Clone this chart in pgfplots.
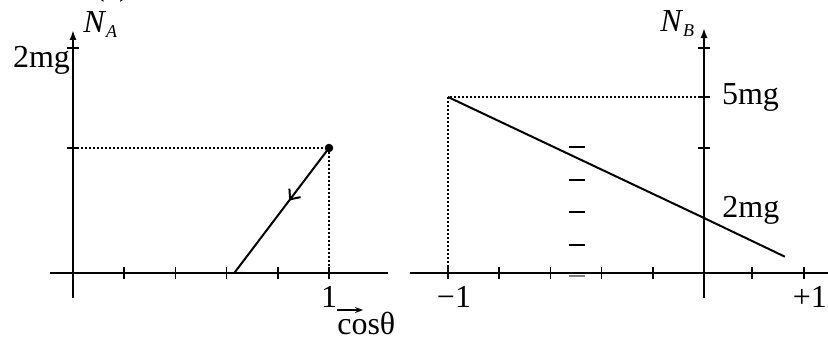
\documentclass[border=0pt]{standalone}
\usepackage{fontspec}
\setmainfont{Liberation Serif}
\usepackage{pgfplots}
\pgfplotsset{compat=1.18}
\usetikzlibrary{arrows.meta,decorations.markings}

\newcommand{\lblfont}{\fontsize{16}{19}\selectfont}
\newcommand{\sub}[1]{\raisebox{-2.5pt}{\fontsize{9}{10}\selectfont\itshape #1}}

\pgfplotsset{
  physaxis/.style={
    axis lines=middle,
    enlargelimits=false,
    clip=false,
    axis line style={line width=0.9pt},
    x axis line style={-},
    y axis line style={-{Latex[length=5pt,width=3.5pt]}},
    tick align=center,
    major tick length=6pt,
    tick style={line width=0.8pt, black},
    every tick label/.append style={font=\lblfont},
  },
}

\begin{document}
\begin{tikzpicture}[x=1pt,y=1pt]
\useasboundingbox (0,0) rectangle (414,170.5);
\node[anchor=base, font=\lblfont] at (56,172.5) {(a)};

% N_A against cos(theta)
\begin{axis}[physaxis,
  x=128pt, y=56.25pt,
  at={(36.5pt,34pt)}, anchor=origin,
  xmin=-0.09, xmax=1.23, ymin=-0.222, ymax=2.16,
  xtick={0.2,0.4,0.6,0.8,1}, xticklabels={,,,,1},
  ytick={1.111,2}, yticklabels={,2mg},
  yticklabel style={xshift=5pt, yshift=-6pt},
]
\addplot[line width=0.6pt, dash pattern=on 1pt off 1pt] coordinates {(0,1.111)(1,1.111)(1,0)};
\addplot[line width=1pt, postaction={decorate}, decoration={markings,
    mark=at position 0.42 with {\arrow{Straight Barb[length=4pt,width=7pt]}}}]
  coordinates {(1,1.111)(0.63,0)};
\addplot[only marks, mark=*, mark size=1.9pt] coordinates {(1,1.111)};
\node[anchor=base west, inner sep=0pt, font=\lblfont] at (axis cs:0.039,2.142) {\textit{N}\sub{A}};
\node[anchor=base west, inner sep=0pt, font=\lblfont] at (axis cs:1.031,-0.551) {cosθ};
\draw[-{Stealth[length=4pt,width=3pt]}, line width=0.6pt] (axis cs:1.031,-0.329) -- (axis cs:1.133,-0.329);
\end{axis}

% N_B against cos(theta)
\begin{axis}[physaxis,
  x=128pt, y=17.6pt,
  at={(352pt,34pt)}, anchor=origin,
  xmin=-1.148, xmax=0.5, ymin=-0.71, ymax=6.96,
  xtick={-1,-0.8,-0.6,-0.4,-0.2,0.188,0.39}, xticklabels={−1,,,,,,+1},
  xticklabel style={xshift=3pt},
  ytick={3.551,5,6.392}, yticklabels={,5mg,},
  yticklabel style={anchor=west, xshift=8.5pt},
]
\addplot[line width=0.6pt, dash pattern=on 1pt off 1pt] coordinates {(0,5)(-1,5)(-1,0)};
\addplot[line width=1pt] coordinates {(-1,5)(0,1.5625)(0.316,0.463)};
\addplot[only marks, mark=-, mark size=4pt, mark options={line width=1pt}]
  coordinates {(-0.497,3.588)(-0.497,2.642)(-0.497,1.741)(-0.497,0.795)};
\addplot[only marks, mark=-, mark size=4pt, mark options={line width=1.2pt, gray}]
  coordinates {(-0.497,-0.077)};
\node[anchor=base west, inner sep=0pt, font=\lblfont] at (axis cs:0.0703,1.5625) {2mg};
\node[anchor=base west, inner sep=0pt, font=\lblfont] at (axis cs:-0.172,6.847) {\textit{N}\sub{B}};
\end{axis}
\end{tikzpicture}
\end{document}
